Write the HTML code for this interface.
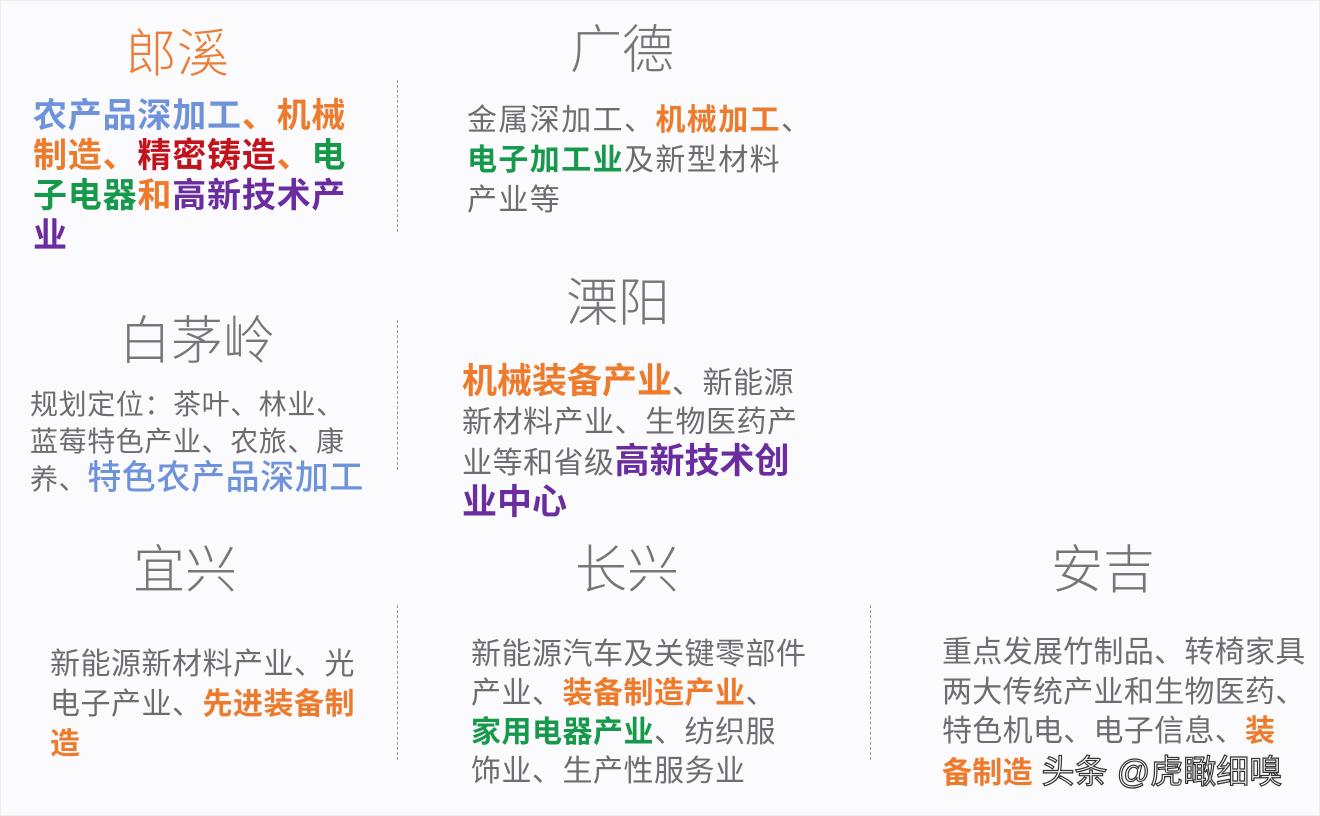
<!DOCTYPE html>
<html><head><meta charset="utf-8"><style>
html,body{margin:0;padding:0}
body{width:1320px;height:816px;background:#fbfbfd;position:relative;overflow:hidden;font-family:"Liberation Sans","Noto Sans CJK SC",sans-serif;color:#6e6c72}
.t{position:absolute;font-size:52px;font-weight:300;color:#77757b;white-space:nowrap;transform:translateX(-50%);line-height:1}
.p{position:absolute;white-space:nowrap;font-size:30px;letter-spacing:0.5px}
.o{color:#ee7a2c;font-weight:bold}
.b{color:#6f93db}
.r{color:#c2121c;font-weight:bold}
.g{color:#16994a;font-weight:bold}
.u{color:#6a2c9e;font-weight:bold}
.d{position:absolute;width:0;border-left:1.5px dashed #9a9aa4}
</style></head><body>
<div style="position:absolute;left:0;top:0;width:1318px;height:814px;border:1px solid #eceef2"></div>

<div class="t" style="left:177px;top:29px;color:#ea7d38">郎溪</div>
<div class="p" style="left:33px;top:96px;font-size:34px;line-height:40px;font-weight:bold;letter-spacing:0.8px"><span class="b">农产品深加工</span><span class="o">、机械</span><br><span class="o">制造、</span><span class="r">精密铸造</span><span class="o">、</span><span class="g">电</span><br><span class="g">子电器</span><span class="o">和</span><span class="u">高新技术产</span><br><span class="u">业</span></div>

<div class="t" style="left:622px;top:25px">广德</div>
<div class="p" style="left:467px;top:101px;line-height:40px;letter-spacing:1.4px">金属深加工、<span class="o">机械加工</span>、<br><span class="g">电子加工业</span>及新型材料<br>产业等</div>

<div class="t" style="left:197px;top:316px">白茅岭</div>
<div class="p" style="left:30px;top:386px;font-size:28px;line-height:37px;letter-spacing:0.6px">规划定位：茶叶、林业、<br>蓝莓特色产业、农旅、康<br>养、<span class="b" style="font-size:34px;font-weight:500">特色农产品深加工</span></div>

<div class="t" style="left:618px;top:278px">溧阳</div>
<div class="p" style="left:462px;top:362px;line-height:39px"><span class="o" style="font-size:35px;letter-spacing:0">机械装备产业</span>、新能源<br>新材料产业、生物医药产<br>业等和省级<span class="u" style="font-size:35px;letter-spacing:0">高新技术创</span><br><span class="u" style="font-size:35px;letter-spacing:0">业中心</span></div>

<div class="t" style="left:185px;top:545px">宜兴</div>
<div class="p" style="left:50px;top:645px;line-height:40px">新能源新材料产业、光<br>电子产业、<span class="o">先进装备制</span><br><span class="o">造</span></div>

<div class="t" style="left:627px;top:545px">长兴</div>
<div class="p" style="left:471px;top:635px;line-height:39px">新能源汽车及关键零部件<br>产业、<span class="o">装备制造产业</span>、<br><span class="g">家用电器产业</span>、纺织服<br>饰业、生产性服务业</div>

<div class="t" style="left:1103px;top:545px">安吉</div>
<div class="p" style="left:942px;top:633px;line-height:39.5px;letter-spacing:0.3px">重点发展竹制品、转椅家具<br>两大传统产业和生物医药、<br>特色机电、电子信息、<span class="o">装</span><br><span class="o">备制造</span> <span style="color:#fff;-webkit-text-stroke:1.2px #333;font-size:33px;letter-spacing:0">头条 @虎瞰细嗅</span></div>

<div class="d" style="left:397px;top:80px;height:152px"></div>
<div class="d" style="left:397px;top:320px;height:150px"></div>
<div class="d" style="left:397px;top:605px;height:155px"></div>
<div class="d" style="left:870px;top:605px;height:155px"></div>
</body></html>
